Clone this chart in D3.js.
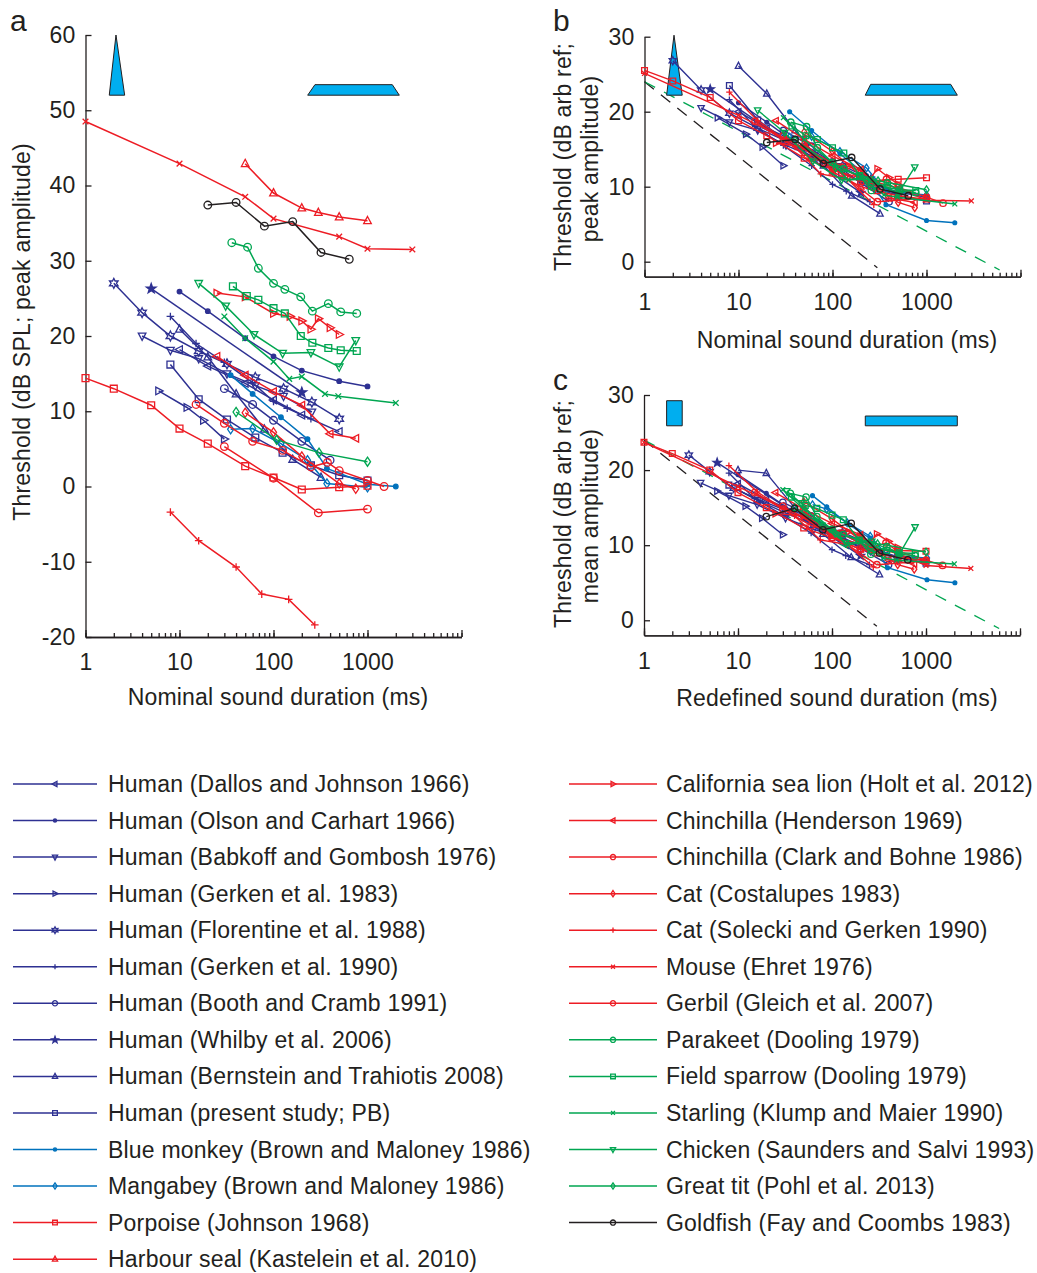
<!DOCTYPE html>
<html>
<head>
<meta charset="utf-8">
<script src="https://cdn.jsdelivr.net/npm/d3@7"></script>
<style>
  body { margin: 0; background: #fff; }
  text { font-family: "Liberation Sans", Arial, Helvetica, sans-serif; fill: #231f20; letter-spacing: 0.2px; }
</style>
</head>
<body>
<svg id="fig" width="1037" height="1273"></svg>
<script>
// ---- data ----
var seriesNames = [
  "Human (Dallos and Johnson 1966)", "Human (Olson and Carhart 1966)", "Human (Babkoff and Gombosh 1976)",
  "Human (Gerken et al. 1983)", "Human (Florentine et al. 1988)", "Human (Gerken et al. 1990)",
  "Human (Booth and Cramb 1991)", "Human (Whilby et al. 2006)", "Human (Bernstein and Trahiotis 2008)",
  "Human (present study; PB)", "Blue monkey (Brown and Maloney 1986)", "Mangabey (Brown and Maloney 1986)",
  "Porpoise (Johnson 1968)", "Harbour seal (Kastelein et al. 2010)",
  "California sea lion (Holt et al. 2012)", "Chinchilla (Henderson 1969)", "Chinchilla (Clark and Bohne 1986)",
  "Cat (Costalupes 1983)", "Cat (Solecki and Gerken 1990)", "Mouse (Ehret 1976)", "Gerbil (Gleich et al. 2007)",
  "Parakeet (Dooling 1979)", "Field sparrow (Dooling 1979)", "Starling (Klump and Maier 1990)",
  "Chicken (Saunders and Salvi 1993)", "Great tit (Pohl et al. 2013)", "Goldfish (Fay and Coombs 1983)"
];
var seriesGroup = ["human","human","human","human","human","human","human","human","human","human",
  "monkey","monkey","mammal","mammal","mammal","mammal","mammal","mammal","mammal","mammal","mammal",
  "bird","bird","bird","bird","bird","fish"];

// nominal durations (ms), panels a and b
var durA = [
  [10,20,50,100,200,500],
  [10,20,50,100,200,500,1000],
  [4,8,16,32,64,128,256],
  [6,12,18,30],
  [2,4,8,16,32,64,128,256,500],
  [8,15,30,60,100,140,250],
  [30,60,100,200,400],
  [5,200],
  [10,20,40,80,160,320],
  [8,16,32,64,125,250,500,1000],
  [35,60,120,230,370,1000,2000],
  [35,60,120,230,370,1000],
  [1,2,5,10,20,50,100,200,500,1000],
  [50,100,200,300,500,1000],
  [25,50,100,150,200,250,300,400,500],
  [25,50,100,200,400,750],
  [30,100,300,1000],
  [50,100,200,500,750],
  [8,16,40,75,145,275],
  [1,10,50,100,500,1000,3000],
  [15,30,60,125,250,375,500,1000,1500],
  [36,53,69,100,132,195,259,383,519,768],
  [37,52,69,100,132,195,259,383,519,768],
  [30,50,100,147,200,353,489,2000],
  [16,31,62,125,250,500,750],
  [40,108,305,1000],
  [20,40,80,160,320,640]
];
// thresholds, dB SPL peak (panel a)
var thrA = [
  [18.2,16.0,13.7,11.5,9.5,7.3],
  [25.9,23.3,19.7,17.3,15.4,14.0,13.3],
  [20.0,18.1,17.0,15.0,13.4,12.0,9.9],
  [12.7,10.5,8.8,6.3],
  [27.0,23.1,20.0,18.0,16.3,14.5,13.0,11.2,9.0],
  [22.6,19.0,16.5,13.8,11.3,10.4,9.0],
  [13.0,10.9,8.8,6.0,3.5],
  [26.3,12.5],
  [20.9,17.2,12.3,7.6,3.6,1.2],
  [16.2,11.6,8.9,6.5,4.5,2.8,1.5,0.8],
  [14.8,12.3,9.2,6.3,2.4,0.3,0.0],
  [7.6,7.7,5.7,3.5,0.4,-0.1],
  [14.4,13.0,10.8,7.7,5.7,2.7,1.2,-0.4,-0.1,0.1],
  [42.9,39.0,37.0,36.4,35.8,35.3],
  [25.7,25.2,23.0,22.6,22.0,20.9,22.3,21.1,20.2],
  [17.3,14.8,12.6,10.8,7.0,6.4],
  [5.3,1.1,-3.5,-3.0],
  [9.8,7.2,4.0,0.4,-0.3],
  [-3.4,-7.2,-10.7,-14.3,-15.0,-18.4],
  [48.5,42.9,38.5,35.6,33.2,31.6,31.5],
  [10.9,8.4,6.0,4.8,2.6,3.2,2.1,0.8,0.0],
  [32.4,31.8,29.0,27.0,26.2,25.2,23.3,24.3,23.2,23.0],
  [26.6,25.3,24.8,23.7,23.0,20.0,19.1,18.4,18.1,18.0],
  [22.6,19.7,16.6,14.3,14.6,12.3,12.0,11.1],
  [27.0,24.0,20.2,17.7,17.8,15.9,19.4],
  [9.9,6.2,4.5,3.3],
  [37.4,37.75,34.6,35.2,31.1,30.2]
];
// thresholds, dB arb ref, peak amplitude (panel b)
var thrB = [
  [20.0,17.8,15.5,13.3,11.3,9.1],
  [21.2,18.6,15.0,12.6,10.7,9.3,8.6],
  [20.5,18.6,17.5,15.5,13.9,12.5,10.4],
  [19.2,17.0,15.3,12.8],
  [26.8,22.9,19.8,17.8,16.1,14.3,12.8,11.0,8.8],
  [21.6,18.0,15.5,12.8,10.3,9.4,8.0],
  [17.5,15.4,13.3,10.5,8.0],
  [23.0,9.2],
  [26.1,22.4,17.5,12.8,8.8,6.4],
  [23.5,18.9,16.2,13.8,11.8,10.1,8.8,8.1],
  [20.0,17.5,14.4,11.5,7.6,5.5,5.2],
  [16.6,16.7,14.7,12.5,9.4,8.9],
  [25.5,24.1,21.9,18.8,16.8,13.8,12.3,10.7,11.0,11.2],
  [15.9,12.0,10.0,9.4,8.8,8.3],
  [15.8,15.3,13.1,12.7,12.1,11.0,12.4,11.2,10.3],
  [18.8,16.3,14.1,12.3,8.5,7.9],
  [16.8,12.6,8.0,8.5],
  [17.3,14.7,11.5,7.9,7.2],
  [22.6,18.8,15.3,11.7,11.0,7.6],
  [25.1,19.5,15.1,12.2,9.8,8.2,8.1],
  [18.7,16.2,13.8,12.6,10.4,11.0,9.9,8.6,7.8],
  [18.6,18.0,15.2,13.2,12.4,11.4,9.5,10.5,9.4,9.2],
  [18.1,16.8,16.3,15.2,14.5,11.5,10.6,9.9,9.6,9.5],
  [19.2,16.3,13.2,10.9,11.2,8.9,8.6,7.7],
  [20.2,17.2,13.4,10.9,11.0,9.1,12.6],
  [16.2,12.5,10.8,9.6],
  [15.9,16.3,13.1,13.9,9.7,8.8]
];
// redefined durations (ms), panel c
var durC = [
  [10,20,50,100,200,500],
  [10,20,50,100,200,500,1000],
  [4,8,16,32,64,128,256],
  [6,12,18,30],
  [3,5,9,17,33,65,129,257,501],
  [8,15,30,60,100,140,250],
  [30,60,100,200,400],
  [6,201],
  [10,20,40,80,160,320],
  [8,16,32,64,125,250,500,1000],
  [62,88,145,255,390,1025,2030],
  [62,88,145,255,390,1025],
  [1,2,5,10,20,50,100,200,500,1000],
  [50,100,200,300,500,1000],
  [25,50,100,150,200,250,300,400,500],
  [25,50,100,200,400,750],
  [30,100,300,1000],
  [50,100,200,500,750],
  [8,16,40,75,145,275],
  [1,10,50,100,500,1000,3000],
  [15,30,60,125,250,375,500,1000,1500],
  [36,53,69,100,132,195,259,383,519,768],
  [37,52,69,100,132,195,259,383,519,768],
  [30,50,100,147,200,353,489,2000],
  [33,47,78,140,265,515,765],
  [40,108,305,1000],
  [20,40,80,160,320,640]
];
// thresholds, dB arb ref, mean amplitude (panel c)
var thrC = [
  [18.2,16.1,14.0,12.1,10.3,8.3],
  [19.4,16.9,13.5,11.4,9.7,8.5,7.9],
  [18.3,16.6,15.4,13.6,12.1,10.9,9.2],
  [17.2,15.2,13.6,11.4],
  [22.0,19.8,17.6,16.0,14.6,13.0,11.7,10.1,8.1],
  [19.6,16.2,14.0,11.6,9.4,8.6,7.4],
  [15.7,13.9,12.0,9.6,7.4],
  [21.0,8.6],
  [20.0,19.6,15.0,11.5,8.4,6.1],
  [18.0,16.0,14.3,12.7,11.0,9.6,8.4,7.6],
  [16.6,15.1,12.9,10.9,7.0,5.4,5.0],
  [15.4,14.8,13.0,11.2,8.6,8.3],
  [23.7,22.2,20.0,17.0,15.0,12.3,11.0,9.5,9.3,9.2],
  [14.6,11.2,9.4,8.9,8.4,8.0],
  [14.2,13.9,12.0,11.8,11.2,10.2,11.5,10.5,9.7],
  [17.0,14.8,12.9,11.4,8.0,7.5],
  [15.2,11.5,7.4,7.9],
  [15.8,13.5,10.7,7.4,6.8],
  [20.6,17.1,13.9,10.7,10.1,7.1],
  [23.7,17.8,13.7,11.1,8.9,7.3,6.9],
  [17.0,14.8,12.6,11.6,9.6,10.3,9.2,8.0,7.3],
  [16.9,16.4,13.8,12.1,11.4,10.6,8.8,9.8,8.8,8.6],
  [16.4,15.3,14.9,14.0,13.4,10.7,9.9,9.3,9.0,8.9],
  [17.4,14.8,12.1,10.0,10.4,8.3,8.0,7.5],
  [17.2,15.6,12.6,10.3,10.5,8.7,12.4],
  [15.0,11.6,10.2,9.1],
  [13.8,14.9,12.05,12.9,8.95,8.05]
];
// reference slopes in panels b and c: [ms, dB]
var slopeBlack = [[1, 24], [300, -0.8]];
var slopeGreen = [[1, 24], [6000, -1.1]];

var xTickLabels = [1, 10, 100, 1000];
var yTicksA = [-20, -10, 0, 10, 20, 30, 40, 50, 60];
var yTicksBC = [0, 10, 20, 30];

// ---- styles ----
var groupColor = {human: "#2e3192", monkey: "#0072bc", mammal: "#ed1c24", bird: "#00a651", fish: "#231f20"};
var markerOf = ["<", ".", "v", ">", "h", "+", "o", "p", "^", "s", ".", "d", "s", "^",
                ">", "<", "o", "d", "+", "x", "o", "o", "s", "x", "v", "d", "o"];
var ink = "#231f20";
var iconFill = "#00aeef";
var fs = 23;

var svg = d3.select("#fig");

function markerPath(t, s) {
  var r, i, a, pts = [];
  switch (t) {
    case "o": return "M" + (-s) + ",0A" + s + "," + s + " 0 1,0 " + s + ",0A" + s + "," + s + " 0 1,0 " + (-s) + ",0Z";
    case ".": r = s * 0.6; return "M" + (-r) + ",0A" + r + "," + r + " 0 1,0 " + r + ",0A" + r + "," + r + " 0 1,0 " + (-r) + ",0Z";
    case "s": r = s * 0.9; return "M" + (-r) + "," + (-r) + "H" + r + "V" + r + "H" + (-r) + "Z";
    case "^": return "M0," + (-s * 1.15) + "L" + s + "," + (s * 0.75) + "L" + (-s) + "," + (s * 0.75) + "Z";
    case "v": return "M0," + (s * 1.15) + "L" + s + "," + (-s * 0.75) + "L" + (-s) + "," + (-s * 0.75) + "Z";
    case "<": return "M" + (-s * 1.15) + ",0L" + (s * 0.75) + "," + (-s) + "L" + (s * 0.75) + "," + s + "Z";
    case ">": return "M" + (s * 1.15) + ",0L" + (-s * 0.75) + "," + (-s) + "L" + (-s * 0.75) + "," + s + "Z";
    case "d": return "M0," + (-s * 1.2) + "L" + (s * 0.8) + ",0L0," + (s * 1.2) + "L" + (-s * 0.8) + ",0Z";
    case "+": return "M" + (-s) + ",0H" + s + "M0," + (-s) + "V" + s;
    case "x": r = s * 0.75; return "M" + (-r) + "," + (-r) + "L" + r + "," + r + "M" + (-r) + "," + r + "L" + r + "," + (-r);
    case "p":
      for (i = 0; i < 10; i++) {
        a = -Math.PI / 2 + i * Math.PI / 5;
        r = i % 2 ? s * 0.55 : s * 1.35;
        pts.push([r * Math.cos(a), r * Math.sin(a)]);
      }
      return "M" + pts.join("L") + "Z";
    case "h":
      for (i = 0; i < 12; i++) {
        a = -Math.PI / 2 + i * Math.PI / 6;
        r = i % 2 ? s * 0.7 : s * 1.3;
        pts.push([r * Math.cos(a), r * Math.sin(a)]);
      }
      return "M" + pts.join("L") + "Z";
  }
}

function drawMarker(g, t, color, s, cx, cy, sw) {
  g.append("path")
    .attr("d", markerPath(t, s))
    .attr("transform", "translate(" + cx + "," + cy + ")")
    .attr("fill", (t == "." || t == "p") ? color : "none")
    .attr("stroke", color)
    .attr("stroke-width", sw);
}

function drawAxes(g, x, y, yTicks) {
  var y0 = y.range()[0], x0 = x.range()[0];
  // minor ticks on the log axis
  g.append("g").attr("class", "ax").attr("transform", "translate(0," + y0 + ")")
    .call(d3.axisBottom(x).tickValues(x.ticks()).tickSize(-4).tickSizeOuter(0).tickFormat(""));
  g.append("g").attr("class", "ax").attr("transform", "translate(0," + y0 + ")")
    .call(d3.axisBottom(x).tickValues([1, 10, 100, 1000, 10000]).tickSize(-7).tickSizeOuter(0).tickPadding(17)
      .tickFormat(function(d){ return xTickLabels.indexOf(d) >= 0 ? String(d) : ""; }));
  g.append("g").attr("class", "ax").attr("transform", "translate(" + x0 + ",0)")
    .call(d3.axisLeft(y).tickValues(yTicks).tickSize(-6).tickSizeOuter(0).tickPadding(10)
      .tickFormat(function(d){ return String(d); }));
  g.selectAll(".ax path, .ax line").attr("stroke", ink).attr("stroke-width", 1.3);
  g.selectAll(".ax text").attr("font-size", fs).attr("fill", ink);
  g.selectAll(".ax").attr("font-family", null).attr("font-size", null);
}

function drawSeries(g, x, y, durs, thrs, s, lw) {
  var line = d3.line();
  for (var k = 0; k < seriesNames.length; k++) {
    var col = groupColor[seriesGroup[k]];
    var pts = durs[k].map(function(d, i){ return [x(d), y(thrs[k][i])]; });
    g.append("path").attr("d", line(pts)).attr("fill", "none").attr("stroke", col).attr("stroke-width", lw);
    for (var i = 0; i < pts.length; i++) drawMarker(g, markerOf[k], col, s, pts[i][0], pts[i][1], 1.3);
  }
}

function drawSlopes(g, x, y) {
  var line = d3.line().x(function(d){ return x(d[0]); }).y(function(d){ return y(d[1]); });
  g.append("path").attr("d", line(slopeBlack)).attr("fill", "none").attr("stroke", ink)
    .attr("stroke-width", 1.3).attr("stroke-dasharray", "12,9");
  g.append("path").attr("d", line(slopeGreen)).attr("fill", "none").attr("stroke", "#00a651")
    .attr("stroke-width", 1.3).attr("stroke-dasharray", "12,10");
}

function poly(g, x, y, pts) {
  g.append("path")
    .attr("d", "M" + pts.map(function(p){ return [x(p[0]), y(p[1])]; }).join("L") + "Z")
    .attr("fill", iconFill).attr("stroke", ink).attr("stroke-width", 1);
}

// ---- panel a ----
var xA = d3.scaleLog().domain([1, 10000]).range([85.5, 461.5]);
var yA = d3.scaleLinear().domain([-20, 60]).range([637, 35]);
var gA = svg.append("g");
poly(gA, xA, yA, [[1.79, 52], [2.11, 60], [2.61, 52]]);
poly(gA, xA, yA, [[231, 52], [276, 53.4], [1837, 53.4], [2180, 52]]);
drawAxes(gA, xA, yA, yTicksA);
drawSeries(gA, xA, yA, durA, thrA, 3.8, 1.5);
gA.append("text").attr("x", 278).attr("y", 705).attr("text-anchor", "middle").attr("font-size", fs)
  .text("Nominal sound duration (ms)");
gA.append("text").attr("transform", "translate(30,332) rotate(-90)").attr("text-anchor", "middle")
  .attr("font-size", fs).text("Threshold (dB SPL; peak amplitude)");
gA.append("text").attr("x", 10).attr("y", 31).attr("font-size", 30).text("a");

// ---- panel b ----
var xB = d3.scaleLog().domain([1, 10000]).range([644.5, 1020.5]);
var yB = d3.scaleLinear().domain([-2, 30]).range([276.7, 36.7]);
var gB = svg.append("g");
drawSlopes(gB, xB, yB);
poly(gB, xB, yB, [[1.72, 22.2], [2.06, 30.2], [2.52, 22.2]]);
poly(gB, xB, yB, [[223, 22.2], [255, 23.65], [1808, 23.65], [2128, 22.2]]);
drawAxes(gB, xB, yB, yTicksBC);
drawSeries(gB, xB, yB, durA, thrB, 3.2, 1.4);
gB.append("text").attr("x", 847).attr("y", 348).attr("text-anchor", "middle").attr("font-size", fs)
  .text("Nominal sound duration (ms)");
gB.append("text").attr("transform", "translate(571,157) rotate(-90)").attr("text-anchor", "middle")
  .attr("font-size", fs).text("Threshold (dB arb ref;");
gB.append("text").attr("transform", "translate(598,159) rotate(-90)").attr("text-anchor", "middle")
  .attr("font-size", fs).text("peak amplitude)");
gB.append("text").attr("x", 553).attr("y", 31).attr("font-size", 30).text("b");

// ---- panel c ----
var xC = d3.scaleLog().domain([1, 10000]).range([644, 1020]);
var yC = d3.scaleLinear().domain([-2, 30]).range([635.3, 395]);
var gC = svg.append("g");
drawSlopes(gC, xC, yC);
poly(gC, xC, yC, [[1.74, 25.9], [1.74, 29.24], [2.55, 29.24], [2.55, 25.9]]);
poly(gC, xC, yC, [[226, 25.9], [226, 27.2], [2153, 27.2], [2153, 25.9]]);
drawAxes(gC, xC, yC, yTicksBC);
drawSeries(gC, xC, yC, durC, thrC, 3.2, 1.4);
gC.append("text").attr("x", 837).attr("y", 706).attr("text-anchor", "middle").attr("font-size", fs)
  .text("Redefined sound duration (ms)");
gC.append("text").attr("transform", "translate(571,514) rotate(-90)").attr("text-anchor", "middle")
  .attr("font-size", fs).text("Threshold (dB arb ref;");
gC.append("text").attr("transform", "translate(598,516) rotate(-90)").attr("text-anchor", "middle")
  .attr("font-size", fs).text("mean amplitude)");
gC.append("text").attr("x", 553).attr("y", 390).attr("font-size", 30).text("c");

// ---- legend ----
var gL = svg.append("g");
var rowH = 36.55, row0 = 784;
seriesNames.forEach(function(name, k){
  var col = k < 14 ? 0 : 1;
  var r = k < 14 ? k : k - 14;
  var yy = row0 + r * rowH;
  var lx0 = col ? 569 : 13, lx1 = col ? 657 : 97, mx = col ? 613 : 55, tx = col ? 666 : 108;
  var c = groupColor[seriesGroup[k]];
  gL.append("line").attr("x1", lx0).attr("x2", lx1).attr("y1", yy).attr("y2", yy)
    .attr("stroke", c).attr("stroke-width", 1.5);
  drawMarker(gL, markerOf[k], c, 2.6, mx, yy, 1.3);
  gL.append("text").attr("x", tx).attr("y", yy + 8).attr("font-size", fs).text(name);
});
</script>
</body>
</html>
